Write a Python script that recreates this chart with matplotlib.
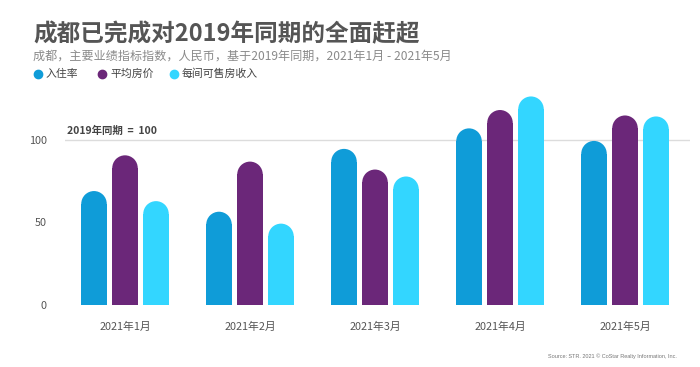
import matplotlib
matplotlib.use('Agg')
import matplotlib.pyplot as plt
from matplotlib.patches import Ellipse
from matplotlib.lines import Line2D
import numpy as np

plt.rcParams['font.family'] = ['Noto Sans CJK SC', 'DejaVu Sans']

months = ['2021年1月', '2021年2月', '2021年3月', '2021年4月', '2021年5月']
series = ['入住率', '平均房价', '每间可售房收入']
occ = [68.9, 56.4, 94.4, 106.8, 99.2]
adr = [90.5, 86.7, 81.9, 117.9, 114.6]
revpar = [62.8, 49.2, 77.7, 126.1, 114.0]
colors = ['#0f9cd8', '#6b2779', '#33d6ff']

W, H = 7.0, 3.67
fig = plt.figure(figsize=(W, H), dpi=100)
ax = fig.add_axes([65 / 700, 1 - 305 / 367, 625 / 700, 215 / 367])

xmin, xmax = -0.48, 4.52
ymin, ymax = 0, 130
ax.set_xlim(xmin, xmax)
ax.set_ylim(ymin, ymax)

# pixel scale, so the round caps come out as half circles
px_x = 625 / (xmax - xmin)
px_y = 215 / (ymax - ymin)

bw = 25.5 / px_x
step = 31 / px_x
ry = (bw / 2) * px_x / px_y

x = np.arange(len(months))
for i, vals in enumerate([occ, adr, revpar]):
    xs = x + (i - 1) * step
    tops = np.array(vals)
    ax.bar(xs, tops - ry, width=bw, color=colors[i], linewidth=0)
    for xi, t in zip(xs, tops):
        ax.add_patch(Ellipse((xi, t - ry), bw, 2 * ry, color=colors[i], lw=0))

ax.axhline(100, color='#dcdcdc', lw=1, zorder=0)
ax.text(xmin + 2 / px_x, 102, '2019年同期  =  100', fontsize=7.5, fontweight='bold',
        color='#444444', va='bottom', ha='left')

ax.set_yticks([0, 50, 100])
ax.set_xticks(x)
ax.set_xticklabels(months)
ax.tick_params(axis='both', length=0, labelsize=7.8, colors='#555555')
ax.tick_params(axis='y', pad=13)
ax.tick_params(axis='x', pad=12)
for s in ax.spines.values():
    s.set_visible(False)

fig.text(33 / 700, 1 - 34 / 367, '成都已完成对2019年同期的全面赶超', fontsize=17,
         fontweight='bold', color='#555555', va='center', ha='left')
fig.text(33 / 700, 1 - 56 / 367,
         '成都，主要业绩指标指数，人民币，基于2019年同期，2021年1月 - 2021年5月',
         fontsize=8.7, color='#8a8a8a', va='center', ha='left')

leg_x = [38, 102, 174]
for lx, name, c in zip(leg_x, series, colors):
    fig.add_artist(Line2D([lx / 700], [1 - 74 / 367], marker='o', markersize=6,
                          color=c, transform=fig.transFigure))
    fig.text((lx + 8) / 700, 1 - 74 / 367, name, fontsize=7.8, color='#444444',
             va='center', ha='left')

fig.text(677 / 700, 1 - 356 / 367, 'Source: STR. 2021 © CoStar Realty Information, Inc.',
         fontsize=4, color='#777777', ha='right', va='center', family='Liberation Sans')

fig.savefig('out.png', dpi=100)
